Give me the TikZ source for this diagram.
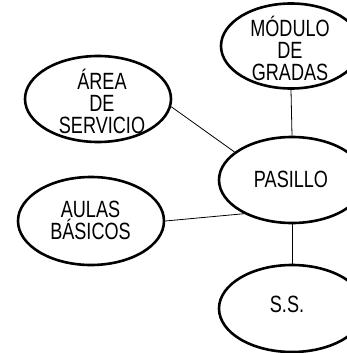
\documentclass[tikz,border=0pt]{standalone}
\usepackage{fontspec}
\newfontfamily\cadfont[FakeStretch=0.77]{Liberation Sans}
\usetikzlibrary{shapes.geometric}
\tikzset{
  blob/.style={ellipse, draw=black, line width=2.6pt, inner sep=0pt,
    minimum width=146pt, minimum height=86pt},
  lbl/.style={align=center, inner sep=0pt,
    font=\cadfont\fontsize{23.5pt}{22pt}\selectfont},
  link/.style={draw=black, line width=0.8pt}
}
\begin{document}
\begin{tikzpicture}[x=1pt,y=-1pt]
\useasboundingbox (0,0) rectangle (347,353);
\clip (0,0) rectangle (347,353);
\node[blob, minimum width=140pt, minimum height=85pt] (mod) at (291,46) {};
\node[blob] (area) at (98,99) {};
\node[blob] (pas) at (292,180) {};
\node[blob, minimum height=88pt] (aulas) at (91,221) {};
\node[blob, minimum height=87pt] (ss) at (292,308.5) {};
\node[lbl] (tmod) at (290,48) {MÓDULO\\DE\\GRADAS};
\node[lbl] (tarea) at (102,101) {ÁREA\\DE\\SERVICIO};
\node[lbl] (tpas) at (291,179) {PASILLO};
\node[lbl] (taulas) at (90.5,220.5) {AULAS\\BÁSICOS};
\node[lbl] (tss) at (287,304.5) {S.S.};
\draw[link] (area.-6) -- (pas.154.6);
\draw[link] (aulas.east) -- (pas.215.5);
\draw[link] (mod.south) -- (pas.north);
\draw[link] (pas.south) -- (ss.north);
\end{tikzpicture}
\end{document}
